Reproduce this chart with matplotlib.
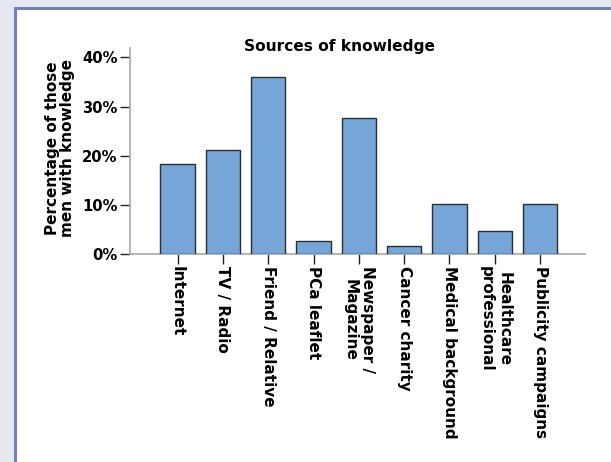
import matplotlib
matplotlib.use('Agg')
import matplotlib.pyplot as plt
from matplotlib.patches import Rectangle

plt.rcParams['font.family'] = 'DejaVu Sans'
plt.rcParams['font.weight'] = 'bold'

# Data
categories = ['Internet', 'TV / Radio', 'Friend / Relative', 'PCa leaflet',
              'Newspaper /\nMagazine', 'Cancer charity', 'Medical background',
              'Healthcare\nprofessional', 'Publicity campaigns']
percentages = [18.4, 21.2, 36.0, 2.6, 27.6, 1.7, 10.1, 4.6, 10.1]
y_ticks = [0, 10, 20, 30, 40]
y_tick_labels = ['0%', '10%', '20%', '30%', '40%']

W, H = 611, 462
fig = plt.figure(figsize=(W / 100, H / 100), dpi=100)
fig.patch.set_facecolor('#e5e8f1')

# white panel with a blue-grey frame (page screenshot look)
panel = Rectangle((14.5 / W, -0.1), 1.2, (H - 8.5) / H + 0.1,
                  transform=fig.transFigure, facecolor='white',
                  edgecolor='#7380b9', linewidth=2.2, zorder=-10)
fig.patches.append(panel)

ax = fig.add_axes([130 / W, 208 / H, 455 / W, 206 / H])
ax.set_zorder(1)
ax.patch.set_alpha(0)

x = list(range(len(categories)))
ax.bar(x, percentages, width=0.76, color='#76a6d8',
       edgecolor='#2e2e2e', linewidth=1.0, zorder=3)

ax.set_xlim(-1.05, 8.99)
ax.set_ylim(0, 41.9)
ax.set_yticks(y_ticks)
ax.set_yticklabels(y_tick_labels)
ax.set_xticks(x)
ax.set_xticklabels(categories, rotation=-90, ha='center', va='top',
                   linespacing=1.25)

for side in ['top', 'right']:
    ax.spines[side].set_visible(False)
for side in ['left', 'bottom']:
    ax.spines[side].set_color('#a8a8a8')
    ax.spines[side].set_linewidth(1.2)

ax.tick_params(axis='both', length=7.5, width=1.0, color='#222222',
               labelcolor='black', pad=1.5)
ax.tick_params(axis='y', labelsize=10.6)
ax.tick_params(axis='x', labelsize=11)
for lbl in ax.get_xticklabels() + ax.get_yticklabels():
    lbl.set_fontweight('bold')

fig.text(339 / W, 1 - 47 / H, 'Sources of knowledge', ha='center',
         va='center', fontsize=11.1, fontweight='bold', color='black')

fig.text(60 / W, 1 - 148 / H, 'Percentage of those\nmen with knowledge',
         rotation=90, ha='center', va='center', multialignment='center',
         fontsize=11, fontweight='bold', color='black', linespacing=1.05)

plt.savefig('out.png', dpi=100, facecolor=fig.get_facecolor())
plt.close()
